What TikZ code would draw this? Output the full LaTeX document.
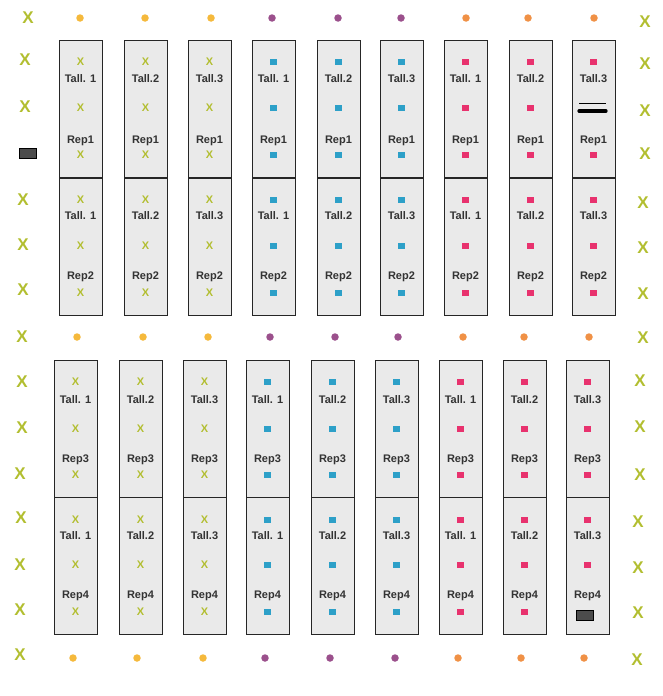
\documentclass[tikz,border=0pt]{standalone}
\usepackage{fontspec}
\setmainfont{Liberation Sans}
\definecolor{xgreen}{RGB}{178,190,48}
\definecolor{mblue}{RGB}{45,160,200}
\definecolor{mpink}{RGB}{232,50,110}
\definecolor{bayfill}{RGB}{234,234,234}
\definecolor{dotc1}{RGB}{245,185,60}
\definecolor{dotc2}{RGB}{155,80,140}
\definecolor{dotc3}{RGB}{240,145,70}
\begin{document}
\begin{tikzpicture}[x=1pt,y=-1pt,
  bay/.style={draw=black!85, line width=1.2pt, fill=bayfill, minimum width=43pt, minimum height=137pt, inner sep=0pt, anchor=north west},
  lbl/.style={font=\bfseries\fontsize{11}{12}\selectfont, text=black!80, inner sep=0pt},
  mk1/.style={font=\bfseries\fontsize{11}{12}\selectfont, text=xgreen, inner sep=0pt},
  mk2/.style={fill=mblue, minimum size=6.5pt, inner sep=0pt},
  mk3/.style={fill=mpink, minimum size=6.5pt, inner sep=0pt},
  outx/.style={font=\bfseries\fontsize{17}{18}\selectfont, text=xgreen, inner sep=0pt},
  dot/.style={circle, minimum size=7.5pt, inner sep=0pt},
  blk/.style={draw=black, line width=0.9pt, fill=black!70, minimum width=17pt, minimum height=10pt, inner sep=0pt}]
\useasboundingbox (0,0) rectangle (663,696);
% ---- top block
\foreach \lx [count=\i] in {59,124,188,252,317,380,444,509,572}{
  \pgfmathtruncatemacro{\g}{int((\i-1)/3)+1}
  \pgfmathtruncatemacro{\t}{mod(\i-1,3)+1}
  \pgfmathsetmacro{\cx}{\lx+21.5}
  \node[bay] (ta\i) at (\lx,40) {};
  \node[bay] (tb\i) at (\lx,178) {};
  \node[lbl] (tla\i) at (\cx,79) {\ifnum\t=1 Tall. 1\else Tall.\t\fi};
  \node[lbl] (tra\i) at (\cx,141) {Rep1};
  \node[lbl] (tlb\i) at (\cx,216) {\ifnum\t=1 Tall. 1\else Tall.\t\fi};
  \node[lbl] (trb\i) at (\cx,277) {Rep2};
  \node[mk\g] (tm1\i) at (\cx,62) {\ifnum\g=1 X\fi};
  \ifnum\i<9 \node[mk\g] (tm2\i) at (\cx,108) {\ifnum\g=1 X\fi};\fi
  \node[mk\g] (tm3\i) at (\cx,155) {\ifnum\g=1 X\fi};
  \node[mk\g] (tm4\i) at (\cx,200) {\ifnum\g=1 X\fi};
  \node[mk\g] (tm5\i) at (\cx,246) {\ifnum\g=1 X\fi};
  \node[mk\g] (tm6\i) at (\cx,293) {\ifnum\g=1 X\fi};
}
% double bar in column 9
\coordinate (bar1a) at (579,103); \coordinate (bar1b) at (606,103);
\coordinate (bar2a) at (579,111); \coordinate (bar2b) at (606,111);
\draw[line width=1pt] (bar1a) -- (bar1b);
\draw[line width=3.2pt, line cap=round] (bar2a) -- (bar2b);
% ---- bottom block
\foreach \lx [count=\i] in {54,119,183,246,311,375,439,503,566}{
  \pgfmathtruncatemacro{\g}{int((\i-1)/3)+1}
  \pgfmathtruncatemacro{\t}{mod(\i-1,3)+1}
  \pgfmathsetmacro{\cx}{\lx+21.5}
  \node[bay] (ba\i) at (\lx,360) {};
  \node[bay] (bb\i) at (\lx,497) {};
  \node[lbl] (bla\i) at (\cx,400) {\ifnum\t=1 Tall. 1\else Tall.\t\fi};
  \node[lbl] (bra\i) at (\cx,460) {Rep3};
  \node[lbl] (blb\i) at (\cx,536) {\ifnum\t=1 Tall. 1\else Tall.\t\fi};
  \node[lbl] (brb\i) at (\cx,596) {Rep4};
  \node[mk\g] (bm1\i) at (\cx,382) {\ifnum\g=1 X\fi};
  \node[mk\g] (bm2\i) at (\cx,429) {\ifnum\g=1 X\fi};
  \node[mk\g] (bm3\i) at (\cx,475) {\ifnum\g=1 X\fi};
  \node[mk\g] (bm4\i) at (\cx,520) {\ifnum\g=1 X\fi};
  \node[mk\g] (bm5\i) at (\cx,565) {\ifnum\g=1 X\fi};
  \ifnum\i<9 \node[mk\g] (bm6\i) at (\cx,612) {\ifnum\g=1 X\fi};\fi
}
\node[blk] (blkr) at (585,615) {};
\node[blk] (blkl) at (28,153) {};
% ---- dots rows
\foreach \x [count=\i] in {80,145,211,272,338,401,466,528,594}{
  \pgfmathtruncatemacro{\g}{int((\i-1)/3)+1}
  \node[dot, fill=dotc\g] (d1\i) at (\x,18) {};}
\foreach \x [count=\i] in {77,143,208,270,335,398,463,524,589}{
  \pgfmathtruncatemacro{\g}{int((\i-1)/3)+1}
  \node[dot, fill=dotc\g] (d2\i) at (\x,337) {};}
\foreach \x [count=\i] in {73,137,203,265,330,395,458,521,584}{
  \pgfmathtruncatemacro{\g}{int((\i-1)/3)+1}
  \node[dot, fill=dotc\g] (d3\i) at (\x,658) {};}
% ---- outer X marks
\foreach \x/\y [count=\i] in {28/18,25/60,25/107,23/200,23/245,23/290,22/337,22/382,22/428,20/474,21/518,20/565,20/610,20/655}{
  \node[outx] (lx\i) at (\x,\y) {X};}
\foreach \x/\y [count=\i] in {645/22,645/64,645/111,645/154,643/203,643/248,643/294,643/338,640/381,640/427,640/475,638/522,638/568,638/613,637/660}{
  \node[outx] (rx\i) at (\x,\y) {X};}
\end{tikzpicture}
\end{document}
